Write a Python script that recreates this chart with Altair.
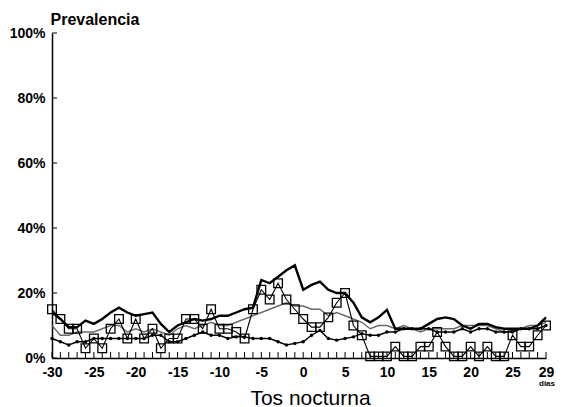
import altair as alt
import pandas as pd

days = list(range(-30, 30))

thick = [14, 12, 9.5, 9.5, 11.5, 10.5, 12, 14, 15.5, 14,
         13, 13.5, 14, 10.5, 8, 10, 11, 12, 11.5, 12,
         13, 13, 14, 15, 15.5, 24, 23, 25, 27, 28.5,
         21, 22.5, 23.5, 21, 20, 20, 17, 12.5, 11, 12.5,
         14.8, 9, 9, 9, 9, 10.5, 12, 12.5, 12, 10,
         9, 10.5, 10.5, 9.5, 9, 9, 9, 9, 10, 12.5]

gray = [10, 7, 7, 8, 8, 8, 9, 10, 10, 8,
        9, 8, 9, 8, 7, 9, 10, 9, 10, 11,
        10, 10, 11, 12, 13, 14, 15, 16, 17, 16,
        16, 15, 15, 13, 14, 13, 12, 11, 9, 10,
        10, 9, 10, 9, 8, 9, 9, 9, 9, 10,
        10, 10, 10, 9, 8, 8, 9, 10, 10, 11]

dotted = [6, 5, 4, 5, 5, 6, 6, 6, 6, 6,
          6, 6, 7, 7, 5, 5, 6, 7, 8, 7,
          7, 6, 6.5, 6.5, 6, 6, 6, 5, 4, 4.5,
          5, 7, 8.5, 6, 5.5, 6, 6.5, 7.5, 7, 7,
          8, 8, 9, 9, 9, 9, 8, 8, 8, 9,
          8, 9, 9, 8, 8, 8, 9, 9, 9, 10]

squares = [15, 12, 9, 9, 3, 6, 3, 9, 12, 6,
           12, 6, 9, 3, 6, 6, 12, 12, 9, 15,
           9, 9, 8, 6, 15, 21, 18, 23, 18, 15,
           12, 9.5, 9.5, 12.5, 17, 20, 10, 7, 0.5, 0.5,
           0.5, 3.5, 0.5, 0.5, 3.5, 3.5, 8, 3.5, 0.5, 0.5,
           3.5, 0.5, 3.5, 0.5, 0.5, 7, 3.5, 3.5, 7, 10]

x_labels = [-30, -25, -20, -15, -10, -5, 0, 5, 10, 15, 20, 25, 29]
y_ticks = [0, 20, 40, 60, 80, 100]

FONT = "Liberation Sans"
W, H = 494, 325

df = pd.DataFrame({"day": days, "thick": thick, "gray": gray,
                   "dotted": dotted, "squares": squares})

xscale = alt.Scale(domain=[-30, 29], nice=False, zero=False)
yscale = alt.Scale(domain=[0, 100], nice=False)

x_axis = alt.Axis(values=x_labels, labelExpr="'' + datum.value", ticks=False,
                  grid=False, domainColor="black", domainWidth=1.5,
                  labelFont=FONT, labelFontWeight="bold", labelFontSize=14,
                  labelColor="black", labelPadding=7, labelFlush=False,
                  title="Tos nocturna", titleFont=FONT, titleFontSize=21,
                  titleFontWeight=500, titleColor="black", titlePadding=8,
                  titleX=258, titleAnchor="start", titleAlign="center")
y_axis = alt.Axis(values=y_ticks, labelExpr="datum.value + '%'", ticks=False,
                  grid=False, domainColor="black", domainWidth=1.5,
                  labelFont=FONT, labelFontWeight="bold", labelFontSize=14,
                  labelColor="black", labelPadding=7,
                  title="Prevalencia", titleAngle=0, titleAlign="left",
                  titleBaseline="alphabetic", titleX=-2, titleY=-9,
                  titleFont=FONT, titleFontSize=16, titleFontWeight="bold",
                  titleColor="black")

X = alt.X("day:Q", scale=xscale, axis=x_axis)


def Y(field):
    return alt.Y(field, type="quantitative", scale=yscale, axis=y_axis)


base = alt.Chart(df)

thick_l = base.mark_line(color="black", strokeWidth=2.4).encode(x=X, y=Y("thick"))
gray_l = base.mark_line(color="#6a6a6a", strokeWidth=1.4).encode(x=X, y=Y("gray"))
dot_l = base.mark_line(color="black", strokeWidth=1.4,
                       point=alt.OverlayMarkDef(filled=True, size=12, color="black")).encode(
    x=X, y=Y("dotted"))
sq_l = base.mark_line(color="black", strokeWidth=1.1,
                      point=alt.OverlayMarkDef(shape="square", filled=False, size=75,
                                               color="black", strokeWidth=1.3)).encode(
    x=X, y=Y("squares"))

xticks = base.mark_rule(color="black", strokeWidth=1).encode(
    x=X, y=alt.value(H), y2=alt.value(H - 6))

yt = alt.Chart(pd.DataFrame({"v": y_ticks})).mark_rule(color="black", strokeWidth=1).encode(
    y=Y("v"), x=alt.value(0), x2=alt.value(5))

dias = alt.Chart(pd.DataFrame({"t": ["dias"]})).mark_text(
    font=FONT, fontSize=8, fontWeight="bold", color="black", baseline="top").encode(
    text="t:N", x=alt.value(W + 1), y=alt.value(H + 22))

chart = alt.layer(xticks, yt, gray_l, dot_l, thick_l, sq_l, dias).properties(
    width=W, height=H, autosize="none",
    padding={"left": 52, "top": 33, "right": 19, "bottom": 49},
    background="white"
).configure_view(stroke=None)

chart.save("out.html", embed_options={"renderer": "svg", "actions": False})
